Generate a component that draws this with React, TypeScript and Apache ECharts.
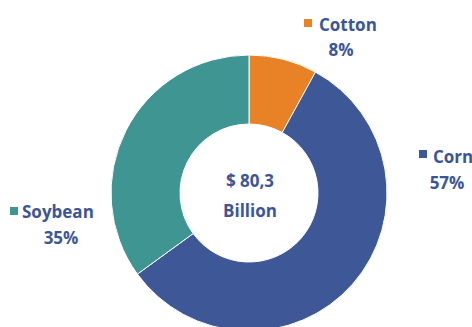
import React, { useEffect, useRef } from "react";
import * as echarts from "echarts";

const categories = ["Cotton", "Corn", "Soybean"];
const shares = [8, 57, 35];
const sliceColors = ["#E98226", "#3E5797", "#3F9591"];
const centerLines = ["$ 80,3", "Billion"];

// label layout (positions only)
const labelLayout = [
  { sq: [304, 19], name: [319, 24], pct: [341, 49] },
  { sq: [419, 150], name: [433, 156], pct: [447, 182] },
  { sq: [10, 207], name: [22, 211], pct: [61, 237] },
];

const TEXT = "#3C5598";
const FONT = "'Open Sans', Lato, sans-serif";

export default function App() {
  const ref = useRef<HTMLDivElement>(null);
  useEffect(() => {
    document.body.style.margin = "0";
    if (!ref.current) return;
    const chart = echarts.init(ref.current, undefined, { renderer: "svg" });
    const graphics: any[] = [];
    categories.forEach((c, i) => {
      const l = labelLayout[i];
      graphics.push({
        type: "rect",
        shape: { x: l.sq[0], y: l.sq[1], width: 8, height: 8 },
        style: { fill: sliceColors[i] },
      });
      graphics.push({
        type: "text",
        x: l.name[0],
        y: l.name[1],
        style: {
          text: c,
          fill: TEXT,
          font: `bold 17px ${FONT}`,
          textAlign: "left",
          textVerticalAlign: "middle",
        },
      });
      graphics.push({
        type: "text",
        x: l.pct[0],
        y: l.pct[1],
        style: {
          text: `${shares[i]}%`,
          fill: TEXT,
          font: `bold 17px ${FONT}`,
          textAlign: "center",
          textVerticalAlign: "middle",
        },
      });
    });
    centerLines.forEach((t, i) => {
      graphics.push({
        type: "text",
        x: 250,
        y: 180 + i * 30,
        style: {
          text: t,
          fill: TEXT,
          font: `bold 17px ${FONT}`,
          textAlign: "center",
          textVerticalAlign: "middle",
        },
      });
    });
    chart.setOption({
      animation: false,
      backgroundColor: "#ffffff",
      series: [
        {
          type: "pie",
          center: [249, 193],
          radius: [69, 138],
          startAngle: 90,
          clockwise: true,
          label: { show: false },
          labelLine: { show: false },
          emphasis: { disabled: true },
          itemStyle: { borderColor: "#ffffff", borderWidth: 1 },
          data: categories.map((c, i) => ({
            name: c,
            value: shares[i],
            itemStyle: { color: sliceColors[i] },
          })),
        },
      ],
      graphic: graphics,
    });
    return () => chart.dispose();
  }, []);
  return <div ref={ref} style={{ width: 472, height: 327 }} />;
}
